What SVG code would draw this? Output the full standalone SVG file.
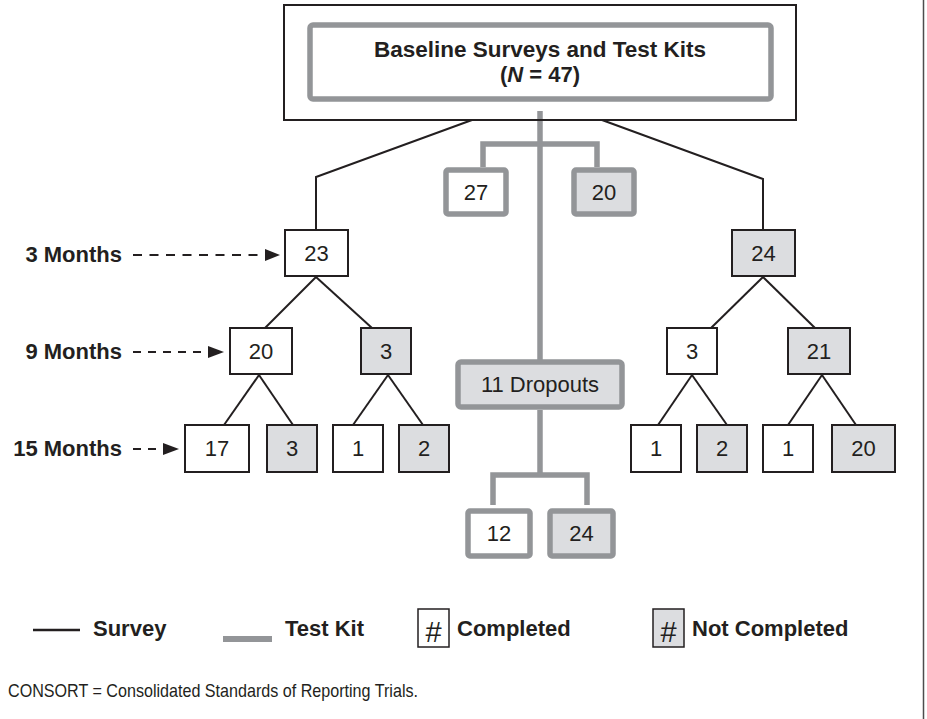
<svg xmlns="http://www.w3.org/2000/svg" width="927" height="719" viewBox="0 0 927 719">
<defs>
<style>
.bk{fill:#fff;stroke:#231f20;stroke-width:2}
.bg{fill:#dcdde0;stroke:#231f20;stroke-width:2}
.gk{fill:#fff;stroke:#939598;stroke-width:5.5}
.gg{fill:#dcdde0;stroke:#939598;stroke-width:5.5}
.num{font-family:"Liberation Sans",Arial,sans-serif;font-size:22px;fill:#231f20;text-anchor:middle}
.lab{font-family:"Liberation Sans",Arial,sans-serif;font-size:22px;font-weight:bold;fill:#231f20}
.hash{font-family:"Liberation Sans",Arial,sans-serif;font-size:29px;fill:#231f20;text-anchor:middle}
.sv{fill:none;stroke:#231f20;stroke-width:2}
.tk{fill:none;stroke:#939598;stroke-width:5.5}
.dash{fill:none;stroke:#231f20;stroke-width:2}
.ah{fill:#231f20}
</style>
</defs>
<rect width="927" height="719" fill="#fff"/>
<line x1="923.5" y1="0" x2="923.5" y2="719" stroke="#4d4d4d" stroke-width="1.5"/>

<g id="connectors">
<polyline class="sv" points="472,120 316,177 316,230"/>
<polyline class="sv" points="602,120 763,179 763,230"/>
<line class="tk" x1="540" y1="111" x2="540" y2="362"/>
<polyline class="tk" points="483,167 483,144 597,144 597,167"/>
<line class="tk" x1="540" y1="410" x2="540" y2="475"/>
<polyline class="tk" points="493,505 493,475 587,475 587,505"/>
<line class="sv" x1="316" y1="277" x2="265" y2="328"/>
<line class="sv" x1="316" y1="277" x2="372" y2="328"/>
<line class="sv" x1="259" y1="375" x2="224" y2="425"/>
<line class="sv" x1="259" y1="375" x2="293" y2="425"/>
<line class="sv" x1="388" y1="375" x2="353" y2="425"/>
<line class="sv" x1="388" y1="375" x2="423" y2="425"/>
<line class="sv" x1="763" y1="277" x2="711" y2="328"/>
<line class="sv" x1="763" y1="277" x2="815" y2="328"/>
<line class="sv" x1="692" y1="375" x2="658" y2="425"/>
<line class="sv" x1="692" y1="375" x2="727" y2="425"/>
<line class="sv" x1="822" y1="375" x2="788" y2="425"/>
<line class="sv" x1="822" y1="375" x2="856" y2="425"/>
</g>

<g id="baseline">
<rect x="284" y="5" width="512" height="115" fill="none" stroke="#231f20" stroke-width="2"/>
<rect x="310" y="25" width="461" height="74" rx="3" class="gk"/>
<text class="lab" x="540" y="57" text-anchor="middle" style="font-size:22.5px">Baseline Surveys and Test Kits</text>
<text class="lab" x="540" y="82" text-anchor="middle">(<tspan font-style="italic">N</tspan> = 47)</text>
</g>

<g id="n27"><rect x="446" y="170" width="60" height="44" rx="2" class="gk"/><text class="num" x="476" y="200">27</text></g>
<g id="n20top"><rect x="574" y="170" width="60" height="44" rx="2" class="gg"/><text class="num" x="604" y="200">20</text></g>

<g id="n23"><rect x="285" y="230" width="63" height="46" class="bk"/><text class="num" x="316.5" y="261">23</text></g>
<g id="n24"><rect x="732" y="230" width="63" height="46" class="bg"/><text class="num" x="763.5" y="261">24</text></g>

<g id="n20m9"><rect x="230" y="328" width="62" height="46" class="bk"/><text class="num" x="261" y="359">20</text></g>
<g id="n3m9g"><rect x="361" y="328" width="50" height="46" class="bg"/><text class="num" x="386" y="359">3</text></g>
<g id="n3m9r"><rect x="667" y="328" width="50" height="46" class="bk"/><text class="num" x="692" y="359">3</text></g>
<g id="n21"><rect x="788" y="328" width="62" height="46" class="bg"/><text class="num" x="819" y="359">21</text></g>

<g id="dropouts"><rect x="458" y="362" width="164" height="45" rx="3" class="gg"/><text class="num" x="540" y="392">11 Dropouts</text></g>

<g id="n17"><rect x="185" y="425" width="64" height="47" class="bk"/><text class="num" x="217" y="456">17</text></g>
<g id="n3m15"><rect x="267" y="425" width="50" height="47" class="bg"/><text class="num" x="292" y="456">3</text></g>
<g id="n1a"><rect x="333" y="425" width="50" height="47" class="bk"/><text class="num" x="358" y="456">1</text></g>
<g id="n2a"><rect x="399" y="425" width="50" height="47" class="bg"/><text class="num" x="424" y="456">2</text></g>
<g id="n1b"><rect x="631" y="425" width="50" height="47" class="bk"/><text class="num" x="656" y="456">1</text></g>
<g id="n2b"><rect x="697" y="425" width="50" height="47" class="bg"/><text class="num" x="722" y="456">2</text></g>
<g id="n1c"><rect x="763" y="425" width="50" height="47" class="bk"/><text class="num" x="788" y="456">1</text></g>
<g id="n20b"><rect x="832" y="425" width="63" height="47" class="bg"/><text class="num" x="863.5" y="456">20</text></g>

<g id="n12"><rect x="468" y="511" width="62" height="45" rx="2" class="gk"/><text class="num" x="499" y="541">12</text></g>
<g id="n24b"><rect x="550" y="511" width="63" height="45" rx="2" class="gg"/><text class="num" x="581.5" y="541">24</text></g>

<g id="timeline">
<text class="lab" x="122" y="262" text-anchor="end">3 Months</text>
<line class="dash" x1="133" y1="255" x2="266" y2="255" stroke-dasharray="9 7.5"/>
<polygon class="ah" points="265,249 280,255 265,261"/>
<text class="lab" x="122" y="359" text-anchor="end">9 Months</text>
<line class="dash" x1="133" y1="352" x2="209" y2="352" stroke-dasharray="8 7"/>
<polygon class="ah" points="208,346 224,352 208,358"/>
<text class="lab" x="122" y="456" text-anchor="end">15 Months</text>
<line class="dash" x1="133" y1="449" x2="164" y2="449" stroke-dasharray="8 7"/>
<polygon class="ah" points="163,443 179,449 163,455"/>
</g>

<g id="legend">
<line x1="33" y1="630" x2="80" y2="630" stroke="#231f20" stroke-width="2.5"/>
<text class="lab" x="93" y="636">Survey</text>
<line x1="223" y1="639" x2="272" y2="639" stroke="#939598" stroke-width="6"/>
<text class="lab" x="285" y="636">Test Kit</text>
<rect x="418" y="609" width="31" height="38" fill="#fff" stroke="#231f20" stroke-width="1.5"/>
<text class="hash" x="433.5" y="642">#</text>
<text class="lab" x="457" y="636">Completed</text>
<rect x="653" y="609" width="31" height="38" fill="#dcdde0" stroke="#231f20" stroke-width="1.5"/>
<text class="hash" x="668.5" y="642">#</text>
<text class="lab" x="692" y="636">Not Completed</text>
</g>

<text x="8" y="697" font-family="'Liberation Sans',Arial,sans-serif" font-size="18.5" fill="#231f20" textLength="410" lengthAdjust="spacingAndGlyphs">CONSORT = Consolidated Standards of Reporting Trials.</text>
</svg>
